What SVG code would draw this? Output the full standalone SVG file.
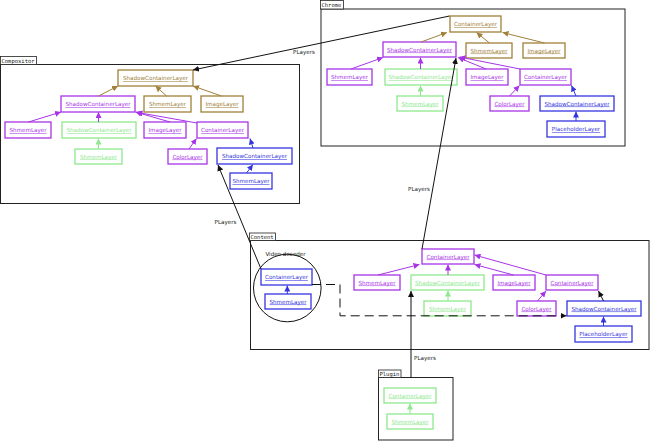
<svg xmlns="http://www.w3.org/2000/svg" width="650" height="441" viewBox="0 0 650 441">
<style>
.frame{fill:none;stroke:#222;stroke-width:1}
.tab{fill:#fff;stroke:#222;stroke-width:0.8}
.tabt{font-family:"DejaVu Sans Mono","Liberation Mono",monospace;font-size:5.5px;fill:#222}
.n rect{fill:#fff;stroke-width:1.3}
.n text{font-family:"DejaVu Sans","Liberation Sans",sans-serif;font-size:5.6px;text-anchor:middle;text-decoration:underline}
.br rect{stroke:#a0803a}.br text{fill:#a0803a}
.pu rect{stroke:#a834e8}.pu text{fill:#a834e8}
.gr rect{stroke:#8ee88e}.gr text{fill:#8ee88e}
.bl rect{stroke:#3535e0}.bl text{fill:#3535e0}
.e{fill:none;stroke-width:1}
.ebr{stroke:#a0803a;marker-end:url(#mbr)}
.epu{stroke:#a834e8;marker-end:url(#mpu)}
.egr{stroke:#8ee88e;marker-end:url(#mgr)}
.ebl{stroke:#3535e0;marker-end:url(#mbl)}
.ebk{stroke:#111;marker-end:url(#mbk)}
.lbl{font-family:"DejaVu Sans","Liberation Sans",sans-serif;font-size:5.6px;fill:#222;text-anchor:middle}
</style>
<defs>
<marker id="mbr" markerUnits="userSpaceOnUse" markerWidth="6" markerHeight="6" refX="6" refY="3" orient="auto"><path d="M0,0 L6,3 L0,6 z" fill="#a0803a"/></marker>
<marker id="mpu" markerUnits="userSpaceOnUse" markerWidth="6" markerHeight="6" refX="6" refY="3" orient="auto"><path d="M0,0 L6,3 L0,6 z" fill="#a834e8"/></marker>
<marker id="mgr" markerUnits="userSpaceOnUse" markerWidth="6" markerHeight="6" refX="6" refY="3" orient="auto"><path d="M0,0 L6,3 L0,6 z" fill="#8ee88e"/></marker>
<marker id="mbl" markerUnits="userSpaceOnUse" markerWidth="6" markerHeight="6" refX="6" refY="3" orient="auto"><path d="M0,0 L6,3 L0,6 z" fill="#3535e0"/></marker>
<marker id="mbk" markerUnits="userSpaceOnUse" markerWidth="6" markerHeight="6" refX="6" refY="3" orient="auto"><path d="M0,0 L6,3 L0,6 z" fill="#111"/></marker>
</defs>
<rect width="650" height="441" fill="#fff"/>

<g id="chrome">
<rect class="frame" x="321" y="9" width="304" height="137"/>
<rect class="tab" x="320.5" y="0.5" width="23" height="8.5"/>
<text class="tabt" x="321.5" y="7">Chrome</text>
</g>
<g id="compositor">
<rect class="frame" x="0.5" y="64.5" width="299" height="139"/>
<rect class="tab" x="0.5" y="56.5" width="36" height="8"/>
<text class="tabt" x="1.5" y="63">Compositor</text>
</g>
<g id="content">
<rect class="frame" x="250.5" y="240.5" width="398.5" height="109"/>
<rect class="tab" x="249.5" y="233" width="26" height="7.5"/>
<text class="tabt" x="250.5" y="239.3">Content</text>
</g>
<g id="plugin">
<rect class="frame" x="378.5" y="377.5" width="74.5" height="62.5"/>
<rect class="tab" x="378.5" y="370" width="22.5" height="7.5"/>
<text class="tabt" x="379.5" y="376.3">Plugin</text>
</g>
<g id="video-decoder">
<circle cx="287.3" cy="288" r="33.8" fill="none" stroke="#111" stroke-width="1"/>
<text class="lbl" x="285.5" y="256">Video decoder</text>
</g>

<!-- Chrome nodes -->
<g id="ch-container" class="n br"><rect x="450" y="16" width="51" height="16"/><text x="475.5" y="26">ContainerLayer</text></g>
<g id="ch-shadow" class="n pu"><rect x="383" y="42" width="73" height="15"/><text x="419.5" y="51.5">ShadowContainerLayer</text></g>
<g id="ch-shmem-br" class="n br"><rect x="466" y="43" width="46" height="15"/><text x="489" y="52.5">ShmemLayer</text></g>
<g id="ch-image-br" class="n br"><rect x="523" y="43" width="42" height="15"/><text x="544" y="52.5">ImageLayer</text></g>
<g id="ch-shmem-pu" class="n pu"><rect x="327" y="69" width="45" height="16"/><text x="349.5" y="79">ShmemLayer</text></g>
<g id="ch-shadow-gr" class="n gr"><rect x="385" y="69" width="72" height="16"/><text x="421" y="79">ShadowContainerLayer</text></g>
<g id="ch-image-pu" class="n pu"><rect x="466" y="69" width="42" height="16"/><text x="487" y="79">ImageLayer</text></g>
<g id="ch-container-pu" class="n pu"><rect x="520" y="69" width="51" height="16"/><text x="545.5" y="79">ContainerLayer</text></g>
<g id="ch-shmem-gr" class="n gr"><rect x="397" y="96" width="46" height="15"/><text x="420" y="105.5">ShmemLayer</text></g>
<g id="ch-color" class="n pu"><rect x="490" y="96" width="39" height="15"/><text x="509.5" y="105.5">ColorLayer</text></g>
<g id="ch-shadow-bl" class="n bl"><rect x="540" y="96" width="74" height="15"/><text x="577" y="105.5">ShadowContainerLayer</text></g>
<g id="ch-placeholder" class="n bl"><rect x="547" y="121" width="58" height="16"/><text x="576" y="131">PlaceholderLayer</text></g>

<!-- Compositor nodes -->
<g id="co-shadow-br" class="n br"><rect x="118" y="70" width="75" height="16"/><text x="155.5" y="80">ShadowContainerLayer</text></g>
<g id="co-shadow-pu" class="n pu"><rect x="61" y="96" width="74" height="16"/><text x="98" y="106">ShadowContainerLayer</text></g>
<g id="co-shmem-br" class="n br"><rect x="144" y="96" width="47" height="16"/><text x="167.5" y="106">ShmemLayer</text></g>
<g id="co-image-br" class="n br"><rect x="201" y="96" width="42" height="16"/><text x="222" y="106">ImageLayer</text></g>
<g id="co-shmem-pu" class="n pu"><rect x="5" y="122" width="46" height="16"/><text x="28" y="132">ShmemLayer</text></g>
<g id="co-shadow-gr" class="n gr"><rect x="62" y="122" width="74" height="16"/><text x="99" y="132">ShadowContainerLayer</text></g>
<g id="co-image-pu" class="n pu"><rect x="144" y="122" width="42" height="16"/><text x="165" y="132">ImageLayer</text></g>
<g id="co-container-pu" class="n pu"><rect x="197" y="122" width="51" height="16"/><text x="222.5" y="132">ContainerLayer</text></g>
<g id="co-shmem-gr" class="n gr"><rect x="75" y="149" width="47" height="15"/><text x="98.5" y="158.5">ShmemLayer</text></g>
<g id="co-color" class="n pu"><rect x="168" y="149" width="39" height="15"/><text x="187.5" y="158.5">ColorLayer</text></g>
<g id="co-shadow-bl" class="n bl"><rect x="217" y="148" width="75" height="16"/><text x="254.5" y="158">ShadowContainerLayer</text></g>
<g id="co-shmem-bl" class="n bl"><rect x="230" y="173" width="42" height="16"/><text x="251" y="183">ShmemLayer</text></g>

<!-- Content nodes -->
<g id="ct-vd-container" class="n bl"><rect x="261" y="269" width="51" height="16"/><text x="286.5" y="279">ContainerLayer</text></g>
<g id="ct-vd-shmem" class="n bl"><rect x="265" y="294" width="46" height="15"/><text x="288" y="303.5">ShmemLayer</text></g>
<g id="ct-container" class="n pu"><rect x="422" y="249" width="52" height="15"/><text x="448" y="258.5">ContainerLayer</text></g>
<g id="ct-shmem-pu" class="n pu"><rect x="354" y="275" width="46" height="15"/><text x="377" y="284.5">ShmemLayer</text></g>
<g id="ct-shadow-gr" class="n gr"><rect x="411" y="275" width="73" height="15"/><text x="447.5" y="284.5">ShadowContainerLayer</text></g>
<g id="ct-image" class="n pu"><rect x="493" y="275" width="42" height="15"/><text x="514" y="284.5">ImageLayer</text></g>
<g id="ct-container-pu" class="n pu"><rect x="546" y="275" width="52" height="15"/><text x="572" y="284.5">ContainerLayer</text></g>
<g id="ct-shmem-gr" class="n gr"><rect x="424" y="301" width="47" height="15"/><text x="447.5" y="310.5">ShmemLayer</text></g>
<g id="ct-color" class="n pu"><rect x="517" y="301" width="39" height="15"/><text x="536.5" y="310.5">ColorLayer</text></g>
<g id="ct-shadow-bl" class="n bl"><rect x="567" y="301" width="74" height="15"/><text x="604" y="310.5">ShadowContainerLayer</text></g>
<g id="ct-placeholder" class="n bl"><rect x="575" y="326" width="57" height="16"/><text x="603.5" y="336">PlaceholderLayer</text></g>

<!-- Plugin nodes -->
<g id="pl-container" class="n gr"><rect x="384" y="388" width="52" height="15"/><text x="410" y="397.5">ContainerLayer</text></g>
<g id="pl-shmem" class="n gr"><rect x="387" y="414" width="46" height="15"/><text x="410" y="423.5">ShmemLayer</text></g>

<g id="connectors">
<!-- Chrome -->
<line class="e ebr" x1="421" y1="42" x2="447" y2="32.5"/>
<line class="e ebr" x1="489.5" y1="43" x2="476.5" y2="32.5"/>
<line class="e ebr" x1="544.5" y1="43" x2="502.5" y2="32.5"/>
<line class="e epu" x1="351" y1="69" x2="383" y2="57.5"/>
<line class="e epu" x1="420.5" y1="69" x2="420.5" y2="57.5"/>
<line class="e epu" x1="486" y1="69" x2="458" y2="57.5"/>
<line class="e epu" x1="520" y1="69" x2="459.5" y2="57"/>
<line class="e egr" x1="420.5" y1="96" x2="420.5" y2="85.5"/>
<line class="e epu" x1="509.5" y1="96" x2="519.5" y2="85.5"/>
<line class="e ebl" x1="576" y1="96" x2="571.5" y2="85.5"/>
<line class="e ebl" x1="576" y1="121" x2="576" y2="111.5"/>
<!-- Compositor -->
<line class="e ebr" x1="98.5" y1="96" x2="118" y2="86"/>
<line class="e ebr" x1="166.5" y1="96" x2="155.5" y2="86"/>
<line class="e ebr" x1="221.5" y1="96" x2="193" y2="86"/>
<line class="e epu" x1="28.5" y1="122" x2="61" y2="112"/>
<line class="e epu" x1="98.5" y1="122" x2="98.5" y2="112"/>
<line class="e epu" x1="170" y1="122" x2="135.5" y2="112"/>
<line class="e epu" x1="197" y1="123" x2="136.5" y2="112.3"/>
<line class="e egr" x1="98.5" y1="149" x2="98.5" y2="138.5"/>
<line class="e epu" x1="189" y1="149" x2="196.5" y2="138.5"/>
<line class="e ebl" x1="253" y1="148" x2="250" y2="138.5"/>
<line class="e ebl" x1="246.5" y1="173" x2="253" y2="164.5"/>
<!-- Content -->
<line class="e ebl" x1="287.3" y1="294" x2="287.3" y2="285.5"/>
<line class="e epu" x1="378" y1="275" x2="419.5" y2="264.5"/>
<line class="e epu" x1="448" y1="275" x2="448" y2="264.5"/>
<line class="e egr" x1="448" y1="301" x2="448" y2="290.5"/>
<line class="e epu" x1="513.5" y1="275" x2="474.5" y2="264.5"/>
<line class="e epu" x1="546" y1="275" x2="474.5" y2="255"/>
<line class="e epu" x1="537.5" y1="301" x2="546" y2="291"/>
<line class="e ebk" x1="603.5" y1="301" x2="598.5" y2="291"/>
<line class="e ebl" x1="603.5" y1="326" x2="603.5" y2="316.5"/>
<polyline class="e ebk" points="312,284.5 340,284.5 340,315.8 566.5,315.8" stroke-dasharray="9,5"/>
<!-- Plugin -->
<line class="e egr" x1="410" y1="414" x2="410" y2="403.5"/>
<!-- Players -->
<line class="e ebk" x1="449.5" y1="16" x2="193" y2="70"/>
<line class="e ebk" x1="422" y1="249" x2="456" y2="58"/>
<line class="e ebk" x1="261" y1="269" x2="218" y2="165"/>
<line class="e ebk" x1="411" y1="377.5" x2="411" y2="291"/>
<text class="lbl" x="304" y="54">PLayers</text>
<text class="lbl" x="419" y="191">PLayers</text>
<text class="lbl" x="225.5" y="224">PLayers</text>
<text class="lbl" x="425" y="360">PLayers</text>
</g>
</svg>
